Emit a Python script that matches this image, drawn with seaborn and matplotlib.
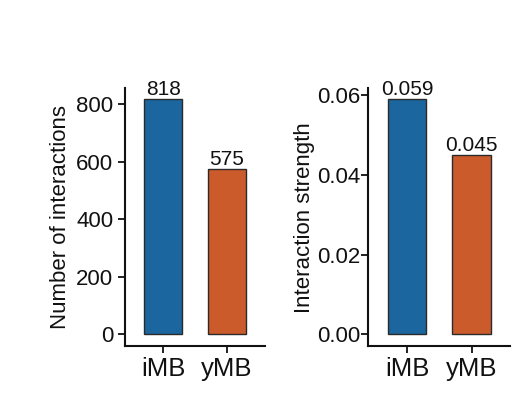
import matplotlib
matplotlib.use("Agg")
import matplotlib.pyplot as plt
import seaborn as sns
import pandas as pd

groups = ["iMB", "yMB"]
n_interactions = [818, 575]
strength = [0.059, 0.045]
strength_labels = ["0.059", "0.045"]
count_labels = ["818", "575"]
colors = ["#1C66A0", "#CC5B2C"]

sns.set_style("ticks")
plt.rcParams["font.family"] = ["Liberation Sans", "DejaVu Sans"]

fig = plt.figure(figsize=(5.23, 3.97), dpi=100)
ax1 = fig.add_axes([0.239, 0.128, 0.268, 0.650])
ax2 = fig.add_axes([0.704, 0.128, 0.272, 0.650])

df1 = pd.DataFrame({"group": groups, "value": n_interactions})
df2 = pd.DataFrame({"group": groups, "value": strength})

for ax, df, labels, ylabel, ticks, ticklabels, ypad, lpad in [
    (ax1, df1, count_labels, "Number of interactions", [0, 200, 400, 600, 800],
     ["0", "200", "400", "600", "800"], 3.5, 4),
    (ax2, df2, strength_labels, "Interaction strength", [0, 0.02, 0.04, 0.06],
     ["0.00", "0.02", "0.04", "0.06"], 0.5, 2),
]:
    sns.barplot(data=df, x="group", y="value", hue="group", palette=colors,
                saturation=1, width=0.6, edgecolor="#2a2a2a", linewidth=1.0,
                legend=False, ax=ax)
    vmax = max(df["value"])
    ax.set_ylim(-0.05 * vmax, vmax * 1.045)
    ax.set_xlim(-0.6, 1.6)
    ax.set_yticks(ticks)
    ax.set_yticklabels(ticklabels)
    for i, (v, lab) in enumerate(zip(df["value"], labels)):
        ax.text(i, v, lab, ha="center", va="bottom", fontsize=15, color="#111111")
    ax.set_xlabel("")
    ax.set_ylabel(ylabel, fontsize=16, color="#111111", labelpad=lpad)
    for s in ["top", "right"]:
        ax.spines[s].set_visible(False)
    for s in ["left", "bottom"]:
        ax.spines[s].set_linewidth(1.5)
        ax.spines[s].set_color("#111111")
    ax.tick_params(axis="both", direction="out", length=5, width=1.3,
                   colors="#111111", labelsize=16)
    ax.tick_params(axis="y", pad=ypad)
    ax.tick_params(axis="x", labelsize=18.5, pad=3)

fig.savefig("out.png", dpi=100)
